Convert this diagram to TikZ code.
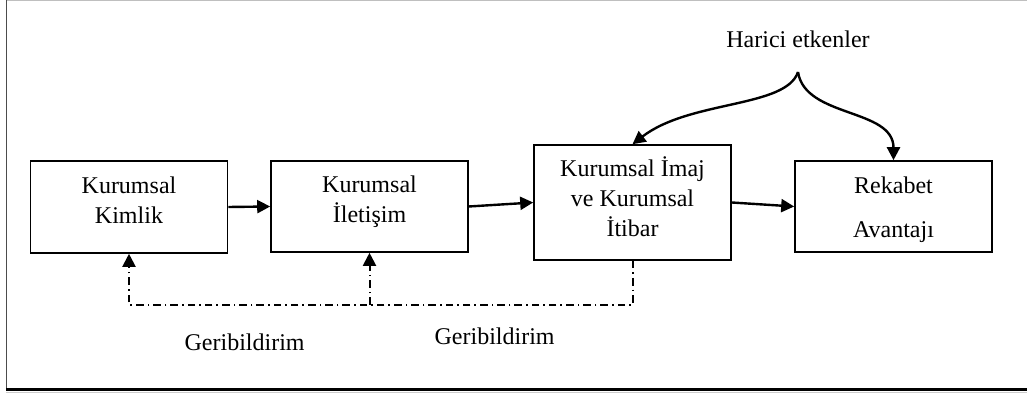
\documentclass[tikz,border=0pt]{standalone}
\usepackage{fontspec}
\setmainfont{Liberation Serif}
\usetikzlibrary{arrows.meta,calc}
\begin{document}
\begin{tikzpicture}[x=0.5pt,y=-0.5pt,
  box/.style={draw,line width=0.8pt,minimum width=98.5pt,inner sep=0pt},
  txt/.style={align=center,inner sep=0pt,font=\fontsize{12pt}{15pt}\selectfont},
  lbl/.style={inner sep=0pt,font=\fontsize{12pt}{15pt}\selectfont},
  flow/.style={line width=1.2pt,-{Triangle[length=6.5pt,width=6.5pt]}},
  fb/.style={line width=1pt,dash pattern=on 3.8pt off 2pt on 0.8pt off 2pt,-{Triangle[length=6.5pt,width=6.5pt]}}]
\useasboundingbox (0,0) rectangle (1027,394);
% frame
\draw[gray!50,line width=0.6pt] (7,0.7) -- (1027,0.7);
\draw[black!70,line width=0.8pt] (6.5,0) -- (6.5,389.5);
\draw[black,line width=1.2pt] (6,389.5) -- (1027,389.5);
\draw[gray!40,line width=0.5pt] (6,392.5) -- (1027,392.5);
% boxes
\node[box,minimum height=46pt] (b1) at (129,207) {};
\node[box,minimum height=45.5pt] (b2) at (369.5,206.5) {};
\node[box,minimum height=57.5pt] (b3) at (632.5,202.5) {};
\node[box,minimum height=45.5pt] (b4) at (893.5,206.5) {};
% box texts
\node[txt] (t1) at (129,200) {Kurumsal\\Kimlik};
\node[txt] (t2) at (369.5,202) {Kurumsal\\İletişim};
\node[txt] (t3) at (632.5,197) {Kurumsal İmaj\\ve Kurumsal\\İtibar};
\node[txt,font=\fontsize{12pt}{22pt}\selectfont] (t4) at (893.5,209.5) {Rekabet\\Avantajı};
% main flow
\draw[flow] (b1.east) -- (b2.west);
\draw[flow] (b2.east) -- (b3.west);
\draw[flow] (b3.east) -- (b4.west);
% external factors
\node[lbl] (h) at (798,39) {Harici etkenler};
\coordinate (cusp) at (798,72);
\draw[flow] (cusp) .. controls (786,108) and (690,100) .. (b3.north);
\draw[flow] (cusp) .. controls (805,118) and (893.5,108) .. (b4.north);
% feedback
\coordinate (k1) at (129,305);
\coordinate (k2) at (369.5,305);
\draw[fb] (b3.south) |- (k1) -- (b1.south);
\draw[fb] (k2) -- (b2.south);
\node[lbl] (g1) at (244.6,342) {Geribildirim};
\node[lbl] (g2) at (494.6,336) {Geribildirim};
\end{tikzpicture}
\end{document}
